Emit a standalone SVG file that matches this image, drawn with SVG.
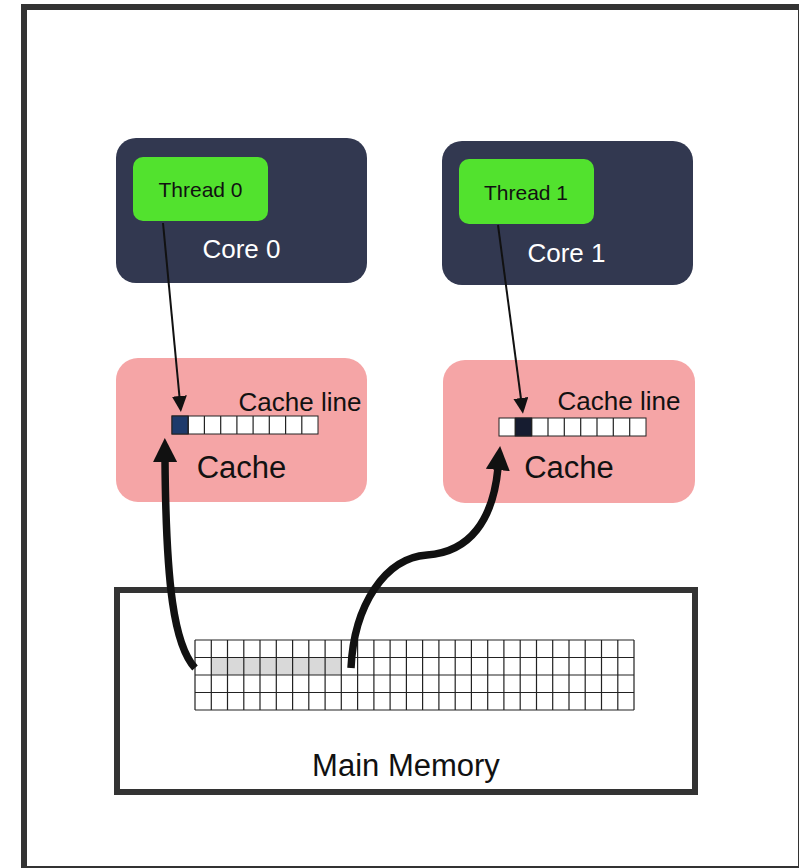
<svg xmlns="http://www.w3.org/2000/svg" width="799" height="868" viewBox="0 0 799 868">
  <style>
    text { font-family: "Liberation Sans", Arial, sans-serif; text-anchor: middle; }
    .core { fill: #323850; }
    .thread { fill: #52e22e; }
    .cache { fill: #f5a5a6; }
    .core-label { fill: #ffffff; font-size: 26px; }
    .thread-label { fill: #111111; font-size: 21px; }
    .cache-label { fill: #111111; font-size: 31px; }
    .line-label { fill: #111111; font-size: 26px; }
    .cell { fill: #ffffff; stroke: #222222; stroke-width: 1; }
    .grid { stroke: #222222; stroke-width: 1.2; fill: none; }
    .thin { stroke: #111111; stroke-width: 2; fill: none; marker-end: url(#head-thin); }
    .thick { stroke: #111111; stroke-width: 7.5; fill: none; marker-end: url(#head-thick); }
  </style>
  <defs>
    <marker id="head-thin" markerUnits="userSpaceOnUse" viewBox="0 0 16 15" markerWidth="16" markerHeight="15" refX="1" refY="7.5" orient="auto">
      <path d="M0,0 L16,7.5 L0,15 z" fill="#111111"/>
    </marker>
    <marker id="head-thick" markerUnits="userSpaceOnUse" viewBox="0 0 24 24" markerWidth="24" markerHeight="24" refX="2" refY="12" orient="auto">
      <path d="M0,0 L24,12 L0,24 z" fill="#111111"/>
    </marker>
  </defs>

  <rect width="799" height="868" fill="#ffffff"/>
  <!-- outer frame -->
  <rect x="24" y="7" width="777" height="862" fill="none" stroke="#333333" stroke-width="6"/>

  <g id="core0">
    <rect class="core" x="116" y="138" width="251" height="145" rx="20"/>
    <text class="core-label" x="241.5" y="258">Core 0</text>
  </g>
  <g id="thread0">
    <rect class="thread" x="133" y="157" width="135" height="64" rx="10"/>
    <text class="thread-label" x="200.5" y="197">Thread 0</text>
  </g>

  <g id="core1">
    <rect class="core" x="442" y="141" width="251" height="144" rx="20"/>
    <text class="core-label" x="566.5" y="262">Core 1</text>
  </g>
  <g id="thread1">
    <rect class="thread" x="459" y="159" width="135" height="65" rx="10"/>
    <text class="thread-label" x="526" y="200">Thread 1</text>
  </g>

  <g id="cache0">
    <rect class="cache" x="116" y="358" width="251" height="144" rx="22"/>
    <text class="line-label" x="300" y="411">Cache line</text>
    <g id="cacheline0">
      <rect class="cell" x="172" y="416" width="146" height="18"/>
      <rect x="172" y="416" width="16.2" height="18" fill="#1e3a6b" stroke="#222222" stroke-width="1"/>
      <path class="grid" d="M188.2,416V434M204.4,416V434M220.7,416V434M236.9,416V434M253.1,416V434M269.3,416V434M285.6,416V434M301.8,416V434"/>
    </g>
    <text class="cache-label" x="241.5" y="478">Cache</text>
  </g>

  <g id="cache1">
    <rect class="cache" x="443" y="360" width="252" height="143" rx="22"/>
    <text class="line-label" x="619" y="410">Cache line</text>
    <g id="cacheline1">
      <rect class="cell" x="499" y="418" width="147" height="18"/>
      <rect x="515.3" y="418" width="16.3" height="18" fill="#161c30" stroke="#222222" stroke-width="1"/>
      <path class="grid" d="M515.3,418V436M531.7,418V436M548,418V436M564.3,418V436M580.7,418V436M597,418V436M613.3,418V436M629.7,418V436"/>
    </g>
    <text class="cache-label" x="569" y="478">Cache</text>
  </g>

  <g id="memory">
    <rect x="117" y="590" width="578" height="202" fill="#ffffff" stroke="#333333" stroke-width="6"/>
    <rect x="195" y="640" width="439" height="70" fill="#ffffff"/>
    <rect x="211.3" y="657.5" width="130.1" height="17.5" fill="#d9d9d9"/>
    <path class="grid" d="M195,640H634M195,657.5H634M195,675H634M195,692.5H634M195,710H634
      M195,640V710M211.3,640V710M227.5,640V710M243.8,640V710M260,640V710M276.3,640V710M292.6,640V710M308.8,640V710M325.1,640V710M341.3,640V710
      M357.6,640V710M373.9,640V710M390.1,640V710M406.4,640V710M422.6,640V710M438.9,640V710M455.2,640V710M471.4,640V710M487.7,640V710M503.9,640V710
      M520.2,640V710M536.5,640V710M552.7,640V710M569,640V710M585.2,640V710M601.5,640V710M617.8,640V710M634,640V710"/>
    <text class="cache-label" x="406" y="776">Main Memory</text>
  </g>

  <g id="connectors">
    <path class="thin" d="M163,223 L179.5,397"/>
    <path class="thin" d="M498,225 L521,399"/>
    <path class="thick" d="M195,668 C174,645 166,585 165,460"/>
    <path class="thick" d="M351,668 C354,605 385,558 427,555 C470,552 493,520 498,468"/>
  </g>
</svg>
